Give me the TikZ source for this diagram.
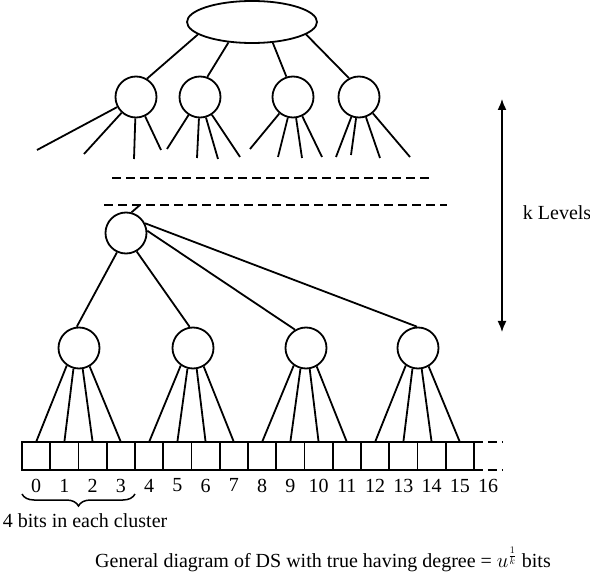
\documentclass[tikz,border=0pt]{standalone}
\usepackage{amsmath}
\usepackage{fontspec}
\setmainfont{Liberation Serif}
\usetikzlibrary{shapes, arrows.meta, positioning, calc, decorations.pathreplacing}

\begin{document}
\begin{tikzpicture}[
   x=1pt, y=-1pt,
   font=\fontsize{20}{24}\selectfont,
   line width=1.8pt,
   rootnode/.style={ellipse, draw, minimum width=130pt, minimum height=42pt, inner sep=0pt},
   bubble/.style={circle, draw, minimum size=41pt, inner sep=0pt},
   bitcell/.style={rectangle, draw, minimum width=28.25pt, minimum height=28pt, inner sep=0pt, outer sep=0pt},
   levelgap/.style={dash pattern=on 9pt off 5pt},
   node distance=0pt
]
   \useasboundingbox (0,0) rectangle (590,583);

   % Root and first level
   \node[rootnode] (root) at (252,22) {};
   \node[bubble] (a1) at (136,97) {};
   \node[bubble] (a2) at (200,97) {};
   \node[bubble] (a3) at (293,97) {};
   \node[bubble] (a4) at (359,97) {};
   \draw (root.193) -- (a1.59);
   \draw (root.221) -- (a2.70);
   \draw (root.315) -- (a3.108);
   \draw (root.347) -- (a4.118);

   % Open branches below the first level
   \foreach \n/\x/\y [count=\i] in {1/37/150, 1/84/154, 1/134/159, 1/161/150,
                                     2/167/149, 2/197/158, 2/218/159, 2/240/157,
                                     3/250/149, 3/278/157, 3/302/158, 3/322/157,
                                     4/336/157, 4/351/155, 4/380/158, 4/410/157}
     {\coordinate (d\i) at (\x,\y);
      \draw (a\n) -- (d\i);}

   % Gap between the levels
   \coordinate (g1l) at (112,178);
   \coordinate (g1r) at (433,178);
   \coordinate (g2l) at (104,205);
   \coordinate (g2r) at (447,205);
   \draw[levelgap, line width=2.8pt] (g1l) -- (g1r);
   \draw[levelgap] (g2l) -- (g2r);

   % Last level
   \node[bubble] (p) at (126,233) {};
   \coordinate (stub) at (140,205);
   \draw (p.75) -- (stub);
   \node[bubble] (c1) at (79,348) {};
   \node[bubble] (c2) at (193,348) {};
   \node[bubble] (c3) at (306,348) {};
   \node[bubble] (c4) at (418,348) {};
   \draw (p.245) -- (c1.96);
   \draw (p.300) -- (c2.99);
   \draw (p.6) -- (c3.121);
   \draw (p.27) -- (c4.93);

   % Bit array
   \node[bitcell] (b0) at (36.1,456) {};
   \foreach \i [remember=\i as \j (initially 0)] in {1,...,15}
     \node[bitcell, right=of b\j] (b\i) {};
   \node[bitcell, draw=none, right=of b15] (b16) {};
   \draw[levelgap] (b16.north west) -- (b16.north east);
   \draw[levelgap] (b16.south west) -- (b16.south east);
   \foreach \i in {0,...,16}
     \node[below=8pt of b\i.south, inner sep=0pt] (n\i) {\i};

   % Clusters to bits
   \foreach \k in {1,...,4}
     \foreach \a [count=\m from 0] in {235,255,280,300}
       {\pgfmathtruncatemacro\b{4*(\k-1)+\m}
        \draw (c\k.\a) -- (b\b.north);}

   % Cluster brace
   \draw[decorate, decoration={brace, mirror, amplitude=12pt}, line width=1.5pt]
     ($(b0.south west)+(0,24)$) -- ($(b3.south east)+(0,24)$);
   \node[anchor=west, inner sep=0pt] (note) at (2,521) {4 bits in each cluster};

   % k levels
   \coordinate (ktop) at (502,99);
   \coordinate (kbot) at (502,332);
   \draw[{Latex[length=11pt,width=9pt]}-{Latex[length=11pt,width=9pt]}, line width=1.5pt] (ktop) -- (kbot);
   \node[right=20pt of $(ktop)!0.5!(kbot)$, yshift=3pt, inner sep=0pt] (klevels) {k Levels};

   % Caption
   \node[anchor=base, inner sep=0pt] (caption) at (323,567)
     {General diagram of DS with true having degree = $u^{\frac{1}{k}}$ bits};
\end{tikzpicture}
\end{document}
